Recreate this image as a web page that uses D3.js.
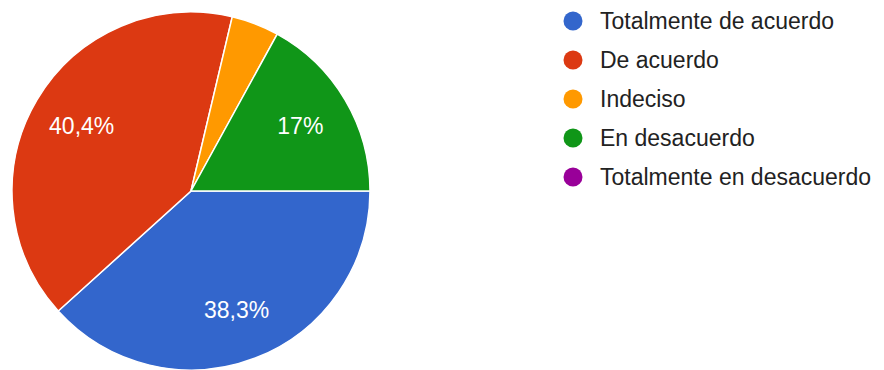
<!DOCTYPE html>
<html>
<head>
<meta charset="utf-8">
<script src="https://cdn.jsdelivr.net/npm/d3@7"></script>
<style>
  html, body { margin: 0; padding: 0; background: #fff; }
  svg { display: block; }
</style>
</head>
<body>
<svg id="chart" width="884" height="370"></svg>
<script>
// Survey answers and their share of responses (%)
const categories = [
  "Totalmente de acuerdo",
  "De acuerdo",
  "Indeciso",
  "En desacuerdo",
  "Totalmente en desacuerdo"
];
const values = [38.3, 40.4, 4.3, 17, 0];
const labels = ["38,3%", "40,4%", "", "17%", ""];
const colors = ["#3366cc", "#dc3912", "#ff9900", "#109618", "#990099"];

const svg = d3.select("#chart");
const cx = 191, cy = 191, radius = 179;

const data = categories.map((c, i) => ({ name: c, value: values[i], label: labels[i], color: colors[i] }));

// Slices begin at 3 o'clock and run clockwise, in data order
const pie = d3.pie()
  .value(d => d.value)
  .sort(null)
  .startAngle(Math.PI / 2)
  .endAngle(Math.PI / 2 + 2 * Math.PI);

const arc = d3.arc().innerRadius(0).outerRadius(radius);
const labelArc = d3.arc().innerRadius(127).outerRadius(127);

const g = svg.append("g").attr("transform", `translate(${cx},${cy})`);
const arcs = pie(data).filter(d => d.data.value > 0);

g.selectAll("path")
  .data(arcs)
  .join("path")
  .attr("d", arc)
  .attr("fill", d => d.data.color)
  .attr("stroke", "#fff")
  .attr("stroke-width", 1.5);

g.selectAll("text")
  .data(arcs.filter(d => d.data.label))
  .join("text")
  .attr("transform", d => `translate(${labelArc.centroid(d)})`)
  .attr("text-anchor", "middle")
  .attr("dominant-baseline", "central")
  .attr("fill", "#fff")
  .style("font-family", "Arial, 'Liberation Sans', sans-serif")
  .style("font-size", "23px")
  .text(d => d.data.label);

// Legend
const legend = svg.append("g").attr("transform", "translate(573,21)");
const step = 39;
const items = legend.selectAll("g")
  .data(data)
  .join("g")
  .attr("transform", (d, i) => `translate(0,${i * step})`);

items.append("circle")
  .attr("r", 9.5)
  .attr("fill", d => d.color);

items.append("text")
  .attr("x", 27)
  .attr("dominant-baseline", "central")
  .attr("fill", "#222")
  .style("font-family", "Arial, 'Liberation Sans', sans-serif")
  .style("font-size", "23px")
  .text(d => d.name);
</script>
</body>
</html>
